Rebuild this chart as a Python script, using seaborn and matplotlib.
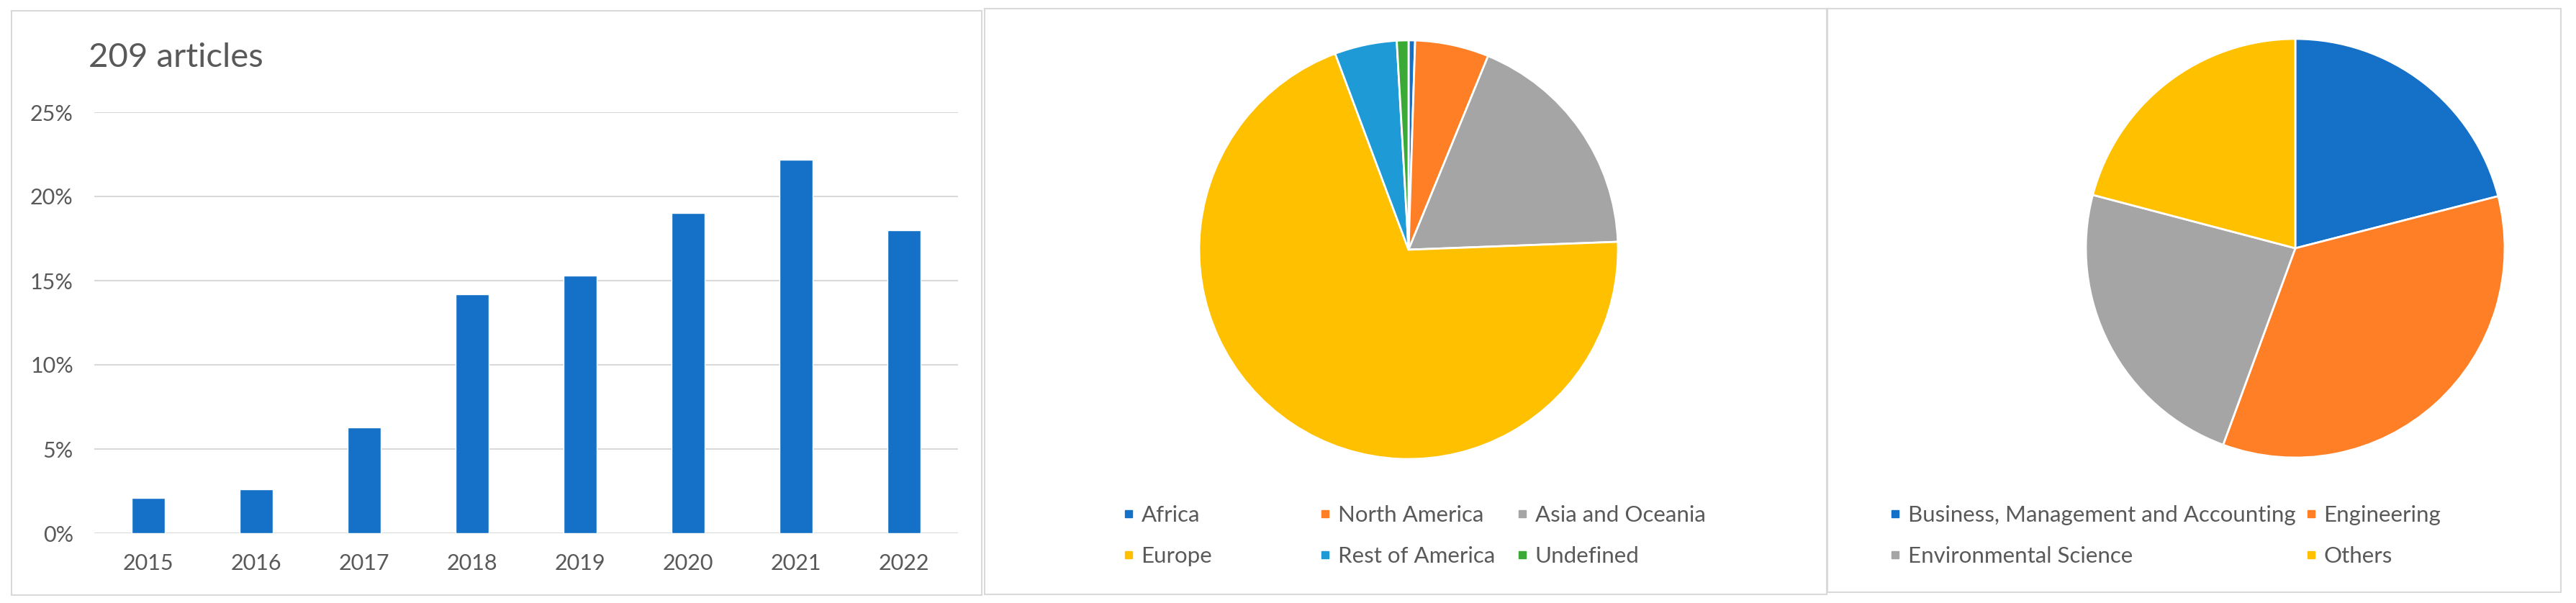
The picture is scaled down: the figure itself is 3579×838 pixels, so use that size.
import numpy as np
import pandas as pd
import matplotlib
matplotlib.use("Agg")
import matplotlib.pyplot as plt
from matplotlib.lines import Line2D
from matplotlib.patches import Rectangle
import seaborn as sns

# data
years = ["2015", "2016", "2017", "2018", "2019", "2020", "2021", "2022"]
year_share = [2.1, 2.6, 6.3, 14.2, 15.3, 19.0, 22.2, 18.0]

regions = ["Africa", "North America", "Asia and Oceania", "Europe", "Rest of America", "Undefined"]
region_share = [0.5, 5.7, 18.2, 69.9, 4.8, 0.9]
region_colors = ["#1570C8", "#FF7F27", "#A5A5A5", "#FFC000", "#1E9BD7", "#3AA935"]

areas = ["Business, Management and Accounting", "Engineering", "Environmental Science", "Others"]
area_share = [21.0, 34.6, 23.5, 20.9]
area_colors = ["#1570C8", "#FF7F27", "#A5A5A5", "#FFC000"]

ytick_vals = [0, 5, 10, 15, 20, 25]

W, H = 3580, 838
TXT = "#595959"
GRID = "#D9D9D9"


def box(x0, y0, x1, y1):
    # pixel box (top-left origin) -> figure fraction [l, b, w, h]
    return [x0 / W, 1 - y1 / H, (x1 - x0) / W, (y1 - y0) / H]


def panel(fig, x0, y0, x1, y1):
    l, b, w, h = box(x0, y0, x1, y1)
    fig.add_artist(Rectangle((l, b), w, h, transform=fig.transFigure,
                             fill=False, edgecolor=GRID, linewidth=1.5))


def column_legend(fig, labels, colors, x_px, y_px):
    handles = [Line2D([], [], marker="s", linestyle="", color=c, markersize=7) for c in colors]
    fig.legend(handles=handles, labels=labels, loc="center left",
               bbox_to_anchor=(x_px / W, 1 - y_px / H), frameon=False,
               fontsize=22.5, labelcolor=TXT, handlelength=0.55, handletextpad=0.3,
               labelspacing=0.95, borderpad=0, borderaxespad=0)


def bar_panel(fig):
    ax = fig.add_axes(box(131, 156, 1331, 741))
    df = pd.DataFrame({"year": years, "share": year_share})
    sns.barplot(data=df, x="year", y="share", color="#1570C8", saturation=1,
                width=0.31, ax=ax)
    ax.set_ylim(0, 25)
    ax.set_xlim(-0.5, 7.5)
    ax.set_yticks(ytick_vals)
    ax.set_yticklabels([f"{v}%" for v in ytick_vals])
    ax.grid(axis="y", color=GRID, linewidth=1.5)
    ax.set_axisbelow(True)
    for s in ax.spines.values():
        s.set_visible(False)
    ax.tick_params(axis="y", length=0, labelsize=22, colors=TXT, pad=21)
    ax.tick_params(axis="x", length=0, labelsize=22, colors=TXT, pad=20)
    ax.set_xlabel("")
    ax.set_ylabel("")
    fig.text(123 / W, 1 - 80 / H, "209 articles", fontsize=34, color=TXT,
             ha="left", va="center")


def pie_panel(fig, rect, values, colors):
    ax = fig.add_axes(box(*rect))
    ax.pie(values, colors=colors, startangle=90, counterclock=False, radius=1,
           wedgeprops=dict(edgecolor="white", linewidth=2))
    ax.set_xlim(-1, 1)
    ax.set_ylim(-1, 1)
    ax.set_aspect("equal")


def main():
    sns.set_style("white")
    plt.rcParams["font.family"] = ["Lato", "DejaVu Sans"]

    fig = plt.figure(figsize=(W / 100, H / 100), dpi=100)

    panel(fig, 16, 15, 1364, 827)
    panel(fig, 1368, 12, 2538, 826)
    panel(fig, 2539, 12, 3558, 823)

    bar_panel(fig)

    pie_panel(fig, (1666, 56, 2248, 638), region_share, region_colors)
    pie_panel(fig, (2898, 54, 3480, 636), area_share, area_colors)

    # legends laid out row by row, one legend per column
    row_mid = (713 + 776) / 2
    column_legend(fig, [regions[0], regions[3]], [region_colors[0], region_colors[3]], 1559, row_mid)
    column_legend(fig, [regions[1], regions[4]], [region_colors[1], region_colors[4]], 1832, row_mid)
    column_legend(fig, [regions[2], regions[5]], [region_colors[2], region_colors[5]], 2106, row_mid)

    column_legend(fig, [areas[0], areas[2]], [area_colors[0], area_colors[2]], 2624, row_mid)
    column_legend(fig, [areas[1], areas[3]], [area_colors[1], area_colors[3]], 3202, row_mid)

    fig.savefig("out.png", dpi=100)
    plt.close(fig)


if __name__ == "__main__":
    main()
